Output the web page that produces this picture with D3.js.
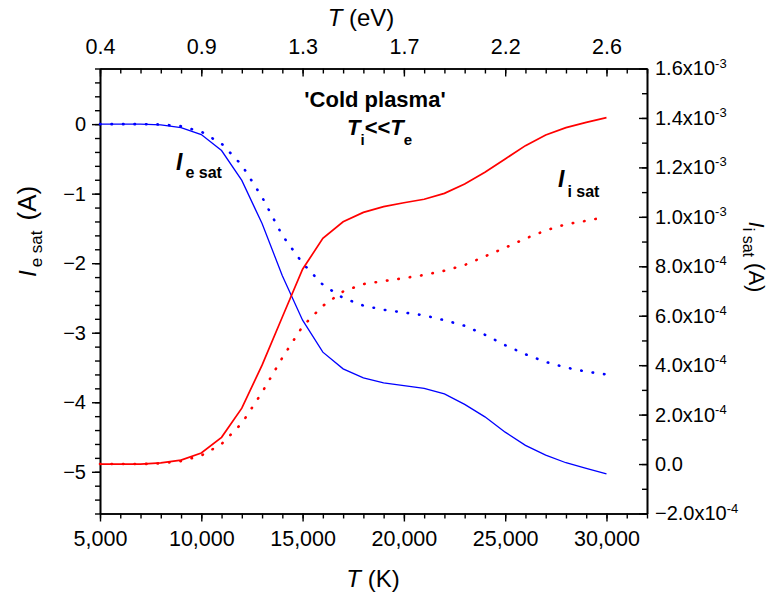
<!DOCTYPE html>
<html><head><meta charset="utf-8">
<script src="https://cdn.jsdelivr.net/npm/d3@7"></script>
<style>
body{margin:0;background:#fff;}
svg text{font-family:"Liberation Sans",Arial,sans-serif;fill:#000;}
</style></head>
<body><svg id="chart" width="774" height="592"></svg>
<script>
// ---- data ----
const temperatureK = [5000,6000,7000,8000,9000,10000,11000,12000,13000,14000,15000,16000,17000,18000,19000,20000,21000,22000,23000,24000,25000,26000,27000,28000,29000,30000];
const ieSatSolid  = [0,0,0,-0.01,-0.05,-0.15,-0.38,-0.81,-1.43,-2.18,-2.82,-3.28,-3.52,-3.65,-3.72,-3.76,-3.80,-3.88,-4.03,-4.21,-4.43,-4.62,-4.76,-4.87,-4.95,-5.03];
const ieSatDotted = [0,0,0,-0.005,-0.03,-0.11,-0.28,-0.59,-1.05,-1.60,-2.00,-2.31,-2.50,-2.61,-2.67,-2.71,-2.75,-2.82,-2.90,-3.03,-3.18,-3.31,-3.42,-3.50,-3.56,-3.60];
const iiSatSolid  = [0,0,0,5e-6,1.6e-5,4.5e-5,1.08e-4,2.26e-4,4.0e-4,5.95e-4,7.88e-4,9.13e-4,9.80e-4,1.018e-3,1.041e-3,1.057e-3,1.071e-3,1.095e-3,1.133e-3,1.180e-3,1.234e-3,1.288e-3,1.331e-3,1.361e-3,1.382e-3,1.401e-3];
const iiSatDotted = [0,0,0,3e-6,1.2e-5,3.4e-5,8.1e-5,1.65e-4,2.9e-4,4.3e-4,5.57e-4,6.4e-4,6.98e-4,7.28e-4,7.40e-4,7.52e-4,7.65e-4,7.82e-4,8.05e-4,8.40e-4,8.75e-4,9.12e-4,9.45e-4,9.70e-4,9.84e-4,1.0e-3];

const bottomTicks = [5000,10000,15000,20000,25000,30000];
const topTickLabels = ["0.4","0.9","1.3","1.7","2.2","2.6"];
const leftTicks = [0,-1,-2,-3,-4,-5];
const rightTicks = [-2e-4,0,2e-4,4e-4,6e-4,8e-4,1.0e-3,1.2e-3,1.4e-3,1.6e-3];
const rightTickMantissa = ["\u22122.0","0.0","2.0","4.0","6.0","8.0","1.0","1.2","1.4","1.6"];
const rightTickExponent = ["-4","","-4","-4","-4","-4","-3","-3","-3","-3"];

// ---- layout ----
const L = 100, R = 647, T = 68.5, B = 513.5;
const svg = d3.select("#chart");
const x = d3.scaleLinear().domain([5000,32000]).range([L,R]);
const yL = d3.scaleLinear().domain([-5.6,0.8]).range([B,T]);
const yR = d3.scaleLinear().domain([-2e-4,1.6e-3]).range([B,T]);

function styleAxis(fs){
  return g => {
    g.selectAll("path.domain").attr("stroke","#000").attr("stroke-width",1.6);
    g.selectAll(".tick line").attr("stroke","#000").attr("stroke-width",1.4);
    g.selectAll("text").attr("font-size",fs).attr("font-family",null);
  };
}

// minor ticks
svg.append("g").attr("transform",`translate(0,${B})`)
  .call(d3.axisBottom(x).tickValues(d3.range(5000,32001,1000)).tickSize(5).tickFormat("").tickSizeOuter(0)).call(styleAxis("20px"));
svg.append("g").attr("transform",`translate(0,${T})`)
  .call(d3.axisTop(x).tickValues(d3.range(5000,32001,1000)).tickSize(-5).tickFormat("").tickSizeOuter(0)).call(styleAxis("20px"));
svg.append("g").attr("transform",`translate(${L},0)`)
  .call(d3.axisLeft(yL).tickValues(d3.range(-28,5).map(d=>d*0.2)).tickSize(5).tickFormat("").tickSizeOuter(0)).call(styleAxis("20px"));
svg.append("g").attr("transform",`translate(${R},0)`)
  .call(d3.axisRight(yR).tickValues(d3.range(-2,17).map(d=>d*1e-4)).tickSize(-5).tickFormat("").tickSizeOuter(0)).call(styleAxis("20px"));

// major ticks
svg.append("g").attr("transform",`translate(0,${B})`)
  .call(d3.axisBottom(x).tickValues(bottomTicks).tickSize(8).tickPadding(9).tickFormat(d3.format(",")).tickSizeOuter(0)).call(styleAxis("21.5px"));
svg.append("g").attr("transform",`translate(0,${T})`)
  .call(d3.axisTop(x).tickValues(bottomTicks).tickSize(-8).tickPadding(15).tickFormat((d,i)=>topTickLabels[i]).tickSizeOuter(0)).call(styleAxis("21.5px"));
svg.append("g").attr("transform",`translate(${L},0)`)
  .call(d3.axisLeft(yL).tickValues(leftTicks).tickSize(8).tickPadding(6).tickFormat(d3.format("d")).tickSizeOuter(0)).call(styleAxis("20px"));
const gR = svg.append("g").attr("transform",`translate(${R},0)`)
  .call(d3.axisRight(yR).tickValues(rightTicks).tickSize(-8).tickPadding(8).tickFormat("").tickSizeOuter(0)).call(styleAxis("20px"));
gR.selectAll(".tick text").each(function(d,i){
  const t = d3.select(this);
  t.text(null);
  t.append("tspan").text(rightTickMantissa[i] + (rightTickExponent[i] ? "x10" : ""));
  if (rightTickExponent[i]) t.append("tspan").attr("dy","-0.6em").attr("font-size","13px").text(rightTickExponent[i]);
});

// ---- series ----
const lineL = d3.line().x((d,i)=>x(temperatureK[i])).y(d=>yL(d));
const lineR = d3.line().x((d,i)=>x(temperatureK[i])).y(d=>yR(d));
const plot = svg.append("g");
plot.append("path").datum(ieSatDotted).attr("d",lineL).attr("fill","none").attr("stroke","#0000ff")
  .attr("stroke-width",2.6).attr("stroke-linecap","round").attr("stroke-dasharray","0.5,11");
plot.append("path").datum(iiSatDotted).attr("d",lineR).attr("fill","none").attr("stroke","#ff0000")
  .attr("stroke-width",2.6).attr("stroke-linecap","round").attr("stroke-dasharray","0.5,11");
plot.append("path").datum(ieSatSolid).attr("d",lineL).attr("fill","none").attr("stroke","#0000ff")
  .attr("stroke-width",1.3);
plot.append("path").datum(iiSatSolid).attr("d",lineR).attr("fill","none").attr("stroke","#ff0000")
  .attr("stroke-width",1.7);

// ---- annotations ----
svg.append("text").attr("x",375).attr("y",107).attr("text-anchor","middle")
  .attr("font-size","22px").attr("font-weight","bold").text("'Cold plasma'");
const tt = svg.append("text").attr("x",347).attr("y",135).attr("font-size","22px").attr("font-weight","bold");
tt.append("tspan").attr("font-style","italic").text("T");
tt.append("tspan").attr("font-size","15px").attr("dy",10).text("i");
tt.append("tspan").attr("dy",-10).text("<<");
tt.append("tspan").attr("font-style","italic").text("T");
tt.append("tspan").attr("font-size","15px").attr("dy",10).text("e");

const le = svg.append("text").attr("x",176).attr("y",170).attr("font-weight","bold").attr("font-size","23px");
le.append("tspan").attr("font-style","italic").text("I");
le.append("tspan").attr("font-size","16px").attr("dx",3).attr("dy",8).text("e sat");

const li = svg.append("text").attr("x",558).attr("y",187).attr("font-weight","bold").attr("font-size","23px");
li.append("tspan").attr("font-style","italic").text("I");
li.append("tspan").attr("font-size","16px").attr("dx",3).attr("dy",10).text("i sat");

// axis titles
const xb = svg.append("text").attr("x",373).attr("y",587).attr("text-anchor","middle").attr("font-size","24px");
xb.append("tspan").attr("font-style","italic").text("T");
xb.append("tspan").text(" (K)");
const xt = svg.append("text").attr("x",361).attr("y",26).attr("text-anchor","middle").attr("font-size","24px");
xt.append("tspan").attr("font-style","italic").text("T");
xt.append("tspan").text(" (eV)");
const yl = svg.append("text").attr("transform","translate(36,277) rotate(-90)").attr("font-size","24px");
yl.append("tspan").attr("font-style","italic").text("I");
yl.append("tspan").attr("font-size","17px").attr("dx",3).attr("dy",6).text("e sat");
yl.append("tspan").attr("font-size","26px").attr("dx",10).attr("dy",-6).text("(A)");
const yr = svg.append("text").attr("transform","translate(749,257) rotate(90)").attr("text-anchor","middle").attr("font-size","22px");
yr.append("tspan").attr("font-style","italic").text("I");
yr.append("tspan").attr("font-size","16px").attr("dy",6).text("i sat");
yr.append("tspan").attr("dy",-6).text(" (A)");
</script></body></html>
